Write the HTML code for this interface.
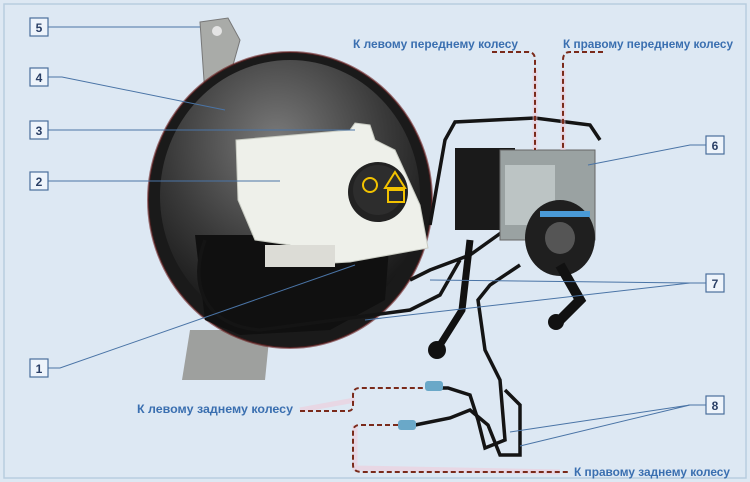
<!DOCTYPE html>
<html><head><meta charset="utf-8"><style>
html,body{margin:0;padding:0;background:#fff;}
svg{display:block;font-family:"Liberation Sans",sans-serif;}
.lb{font-weight:bold;fill:#3a6fb0;font-size:12px;}
.bx{fill:#eef4fb;stroke:#4a6f9c;stroke-width:1.2;}
.n{font-size:12px;font-weight:bold;fill:#2a3f66;text-anchor:middle;}
.ld{stroke:#4a74a6;stroke-width:1;fill:none;}
.dr{stroke:#7a2a1a;stroke-width:2;stroke-dasharray:5,3;fill:none;}
.pk{stroke:#f4c6d6;stroke-width:5;fill:none;opacity:.5;}
.tube{stroke:#141414;stroke-width:3.5;fill:none;}
</style></head><body>
<svg width="750" height="482" viewBox="0 0 750 482">
<defs>
<radialGradient id="bg" cx="0.45" cy="0.3" r="0.7">
<stop offset="0" stop-color="#7a7a7a"/><stop offset="0.6" stop-color="#3a3a3a"/><stop offset="1" stop-color="#151515"/>
</radialGradient>
</defs>
<rect x="0" y="0" width="750" height="482" fill="#dde8f3"/>
<rect x="4" y="4" width="742" height="474" fill="none" stroke="#b8cde0" stroke-width="1.5"/>

<path d="M200 22 L228 18 L240 40 L226 90 L205 95 Z" fill="#a9aba8" stroke="#777"/>
<circle cx="217" cy="31" r="5" fill="#e4e4e4"/>
<path d="M190 330 L270 330 L265 380 L182 380 Z" fill="#9ea09e"/>
<ellipse cx="290" cy="200" rx="142" ry="148" fill="#1a1a1a"/>
<ellipse cx="290" cy="196" rx="130" ry="136" fill="url(#bg)"/>
<ellipse cx="290" cy="200" rx="142" ry="148" fill="none" stroke="#6a2020" stroke-width="2" opacity=".6"/>
<path d="M195 235 L390 235 L385 300 L330 330 L240 335 L205 320 Z" fill="#101010"/>
<path d="M236 140 L350 130 L355 123 L370 125 L375 140 L395 150 L420 205 L428 248 L350 262 L300 265 L290 245 L255 240 L238 200 Z" fill="#eef0ea" stroke="#c8cbc2"/>
<rect x="265" y="245" width="70" height="22" fill="#dcdcd6"/>
<circle cx="378" cy="192" r="30" fill="#222"/>
<circle cx="378" cy="190" r="25" fill="#2d2d2d"/>
<circle cx="370" cy="185" r="7" fill="none" stroke="#f2c200" stroke-width="2"/>
<path d="M395 172 L405 188 L385 188 Z" fill="none" stroke="#f2c200" stroke-width="2"/>
<rect x="388" y="190" width="16" height="12" fill="none" stroke="#f2c200" stroke-width="2"/>
<path class="tube" d="M205 240 C190 280 200 325 260 330 L410 310 L440 295 L460 260"/>
<path class="tube" d="M430 225 L445 140 L455 122 L535 118 L590 125 L600 140"/>
<path class="tube" d="M410 280 L430 270 L470 255 L505 230"/>
<rect x="455" y="148" width="60" height="82" fill="#1a1a1a"/>
<rect x="500" y="150" width="95" height="90" fill="#9aa2a2" stroke="#666"/>
<rect x="505" y="165" width="50" height="60" fill="#bcc4c4"/>
<ellipse cx="560" cy="238" rx="35" ry="38" fill="#1f1f1f"/>
<ellipse cx="560" cy="238" rx="15" ry="16" fill="#555"/>
<rect x="540" y="211" width="50" height="6" fill="#4a9ad6"/>
<path d="M560 265 L580 300 L555 325" stroke="#111" stroke-width="10" fill="none"/>
<circle cx="556" cy="322" r="8" fill="#111"/>
<path d="M470 240 L462 310 L440 345" stroke="#111" stroke-width="7" fill="none"/>
<circle cx="437" cy="350" r="9" fill="#111"/>
<path class="tube" d="M520 265 L490 285 L478 300 L485 350 L500 380 L505 440 L485 448 L478 420 L470 395 L448 388 L430 388"/>
<path class="tube" d="M505 390 L520 405 L520 455 L500 455 L488 425 L470 410 L450 418 L415 425"/>
<rect x="425" y="381" width="18" height="10" rx="3" fill="#6aa8c8"/>
<rect x="398" y="420" width="18" height="10" rx="3" fill="#6aa8c8"/>

<path class="pk" d="M535 70 L535 150 M563 70 L563 150 M300 410 L355 400 M355 425 L355 468 L560 472"/>
<path class="dr" d="M492 52 L528 52 Q535 52 535 60 L535 150"/>
<path class="dr" d="M603 52 L570 52 Q563 52 563 60 L563 150"/>
<path class="dr" d="M300 411 L348 411 Q353 411 353 405 L353 395 Q353 388 360 388 L425 388"/>
<path class="dr" d="M398 425 L360 425 Q353 425 353 432 L353 465 Q353 472 362 472 L570 472"/>

<text class="lb" x="353" y="48" textLength="165" lengthAdjust="spacingAndGlyphs">К левому переднему колесу</text>
<text class="lb" x="563" y="48" textLength="170" lengthAdjust="spacingAndGlyphs">К правому переднему колесу</text>
<text class="lb" x="137" y="413" textLength="156" lengthAdjust="spacingAndGlyphs">К левому заднему колесу</text>
<text class="lb" x="574" y="476" textLength="156" lengthAdjust="spacingAndGlyphs">К правому заднему колесу</text>

<path class="ld" d="M48 27 L200 27"/>
<path class="ld" d="M48 77 L62 77 L225 110"/>
<path class="ld" d="M48 130 L355 130"/>
<path class="ld" d="M48 181 L280 181"/>
<path class="ld" d="M48 368 L60 368 L355 265"/>
<path class="ld" d="M706 145 L690 145 L588 165"/>
<path class="ld" d="M706 283 L690 283 L430 280 M690 283 L365 320"/>
<path class="ld" d="M706 405 L690 405 L510 432 M690 405 L520 446"/>

<rect class="bx" x="30" y="18" width="18" height="18"/><text class="n" x="39" y="32">5</text>
<rect class="bx" x="30" y="68" width="18" height="18"/><text class="n" x="39" y="82">4</text>
<rect class="bx" x="30" y="121" width="18" height="18"/><text class="n" x="39" y="135">3</text>
<rect class="bx" x="30" y="172" width="18" height="18"/><text class="n" x="39" y="186">2</text>
<rect class="bx" x="30" y="359" width="18" height="18"/><text class="n" x="39" y="373">1</text>
<rect class="bx" x="706" y="136" width="18" height="18"/><text class="n" x="715" y="150">6</text>
<rect class="bx" x="706" y="274" width="18" height="18"/><text class="n" x="715" y="288">7</text>
<rect class="bx" x="706" y="396" width="18" height="18"/><text class="n" x="715" y="410">8</text>
</svg>
</body></html>
